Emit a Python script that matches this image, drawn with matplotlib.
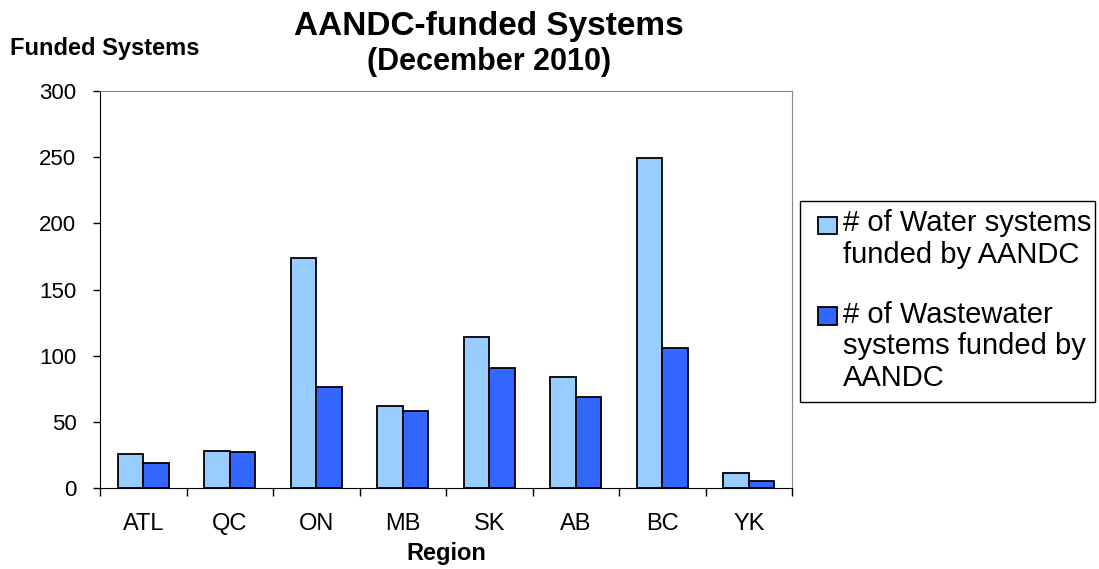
import matplotlib
matplotlib.use("Agg")
import matplotlib.pyplot as plt
import matplotlib.patches as mpatches
import numpy as np

plt.rcParams['font.family'] = ['Liberation Sans', 'DejaVu Sans']

# data
regions = ['ATL', 'QC', 'ON', 'MB', 'SK', 'AB', 'BC', 'YK']
water = [26, 28, 174, 62, 114, 84, 249, 11]
wastewater = [19, 27, 76, 58, 91, 69, 106, 5]
labels = ['# of Water systems\nfunded by AANDC',
          '# of Wastewater\nsystems funded by\nAANDC']
colors = ['#99CCFF', '#3366FF']

LSP = 1.16  # line spacing of legend labels


class TopSquare:
    # legend square placed next to the first line of a multi-line label
    def __init__(self, nlines):
        self.nlines = nlines

    def legend_artist(self, legend, orig_handle, fontsize, handlebox):
        x0, y0 = handlebox.xdescent, handlebox.ydescent
        w, h = handlebox.width, handlebox.height
        shift = (self.nlines - 1) * 0.5 * LSP * fontsize
        patch = mpatches.Rectangle([x0, y0 + shift], w, h,
                                   facecolor=orig_handle.get_facecolor(),
                                   edgecolor='black', lw=1.3,
                                   transform=handlebox.get_transform())
        handlebox.add_artist(patch)
        return patch


W, H = 1099, 569
fig = plt.figure(figsize=(W / 100, H / 100), dpi=100)
ax = fig.add_axes([100 / W, 1 - 488 / H, 692 / W, 397 / H])

x = np.arange(len(regions))
bw = 0.295
b1 = ax.bar(x - bw / 2, water, bw, color=colors[0], edgecolor='black', lw=1.3)
b2 = ax.bar(x + bw / 2, wastewater, bw, color=colors[1], edgecolor='black', lw=1.3)

ax.set_xlim(-0.5, len(regions) - 0.5)
ax.set_ylim(0, 300)
ax.set_yticks(range(0, 301, 50))
ax.set_xticks(np.arange(len(regions) + 1) - 0.5)
ax.set_xticklabels([])
ax.set_xticks(x, minor=True)
ax.set_xticklabels(regions, minor=True)
ax.tick_params(axis='x', which='major', direction='out', length=6, width=1)
ax.tick_params(axis='x', which='minor', length=0, pad=18, labelsize=17)
ax.tick_params(axis='y', direction='out', length=5, width=1, pad=12, labelsize=16)

for s in ['top', 'right']:
    ax.spines[s].set_color('#888888')
for s in ['left', 'bottom']:
    ax.spines[s].set_color('black')

ax.set_xlabel('Region', fontsize=17, fontweight='bold', labelpad=5)

fig.text(10 / W, 1 - 55 / H, 'Funded Systems', fontsize=17,
         fontweight='bold', ha='left', va='baseline')
fig.text(489 / W, 1 - 35 / H, 'AANDC-funded Systems', fontsize=24,
         fontweight='bold', ha='center', va='baseline')
fig.text(489 / W, 1 - 70 / H, '(December 2010)', fontsize=22,
         fontweight='bold', ha='center', va='baseline')

# legend box drawn on its own, legend content placed inside it
fig.patches.append(mpatches.Rectangle((800 / W, 1 - 402 / H), 295 / W, 201 / H,
                                      transform=fig.transFigure, facecolor='none',
                                      edgecolor='black', lw=1.0))
leg = ax.legend([b1[0], b2[0]], labels,
                handler_map={b1[0]: TopSquare(2), b2[0]: TopSquare(3)},
                loc='upper left', bbox_to_anchor=(818 / W, 1 - 209 / H),
                bbox_transform=fig.transFigure, borderaxespad=0, borderpad=0,
                fontsize=21, handlelength=0.65, handleheight=0.55,
                handletextpad=0.2, labelspacing=1.1, frameon=False)
for t in leg.get_texts():
    t.set_linespacing(LSP)

fig.savefig('out.png', dpi=100)
